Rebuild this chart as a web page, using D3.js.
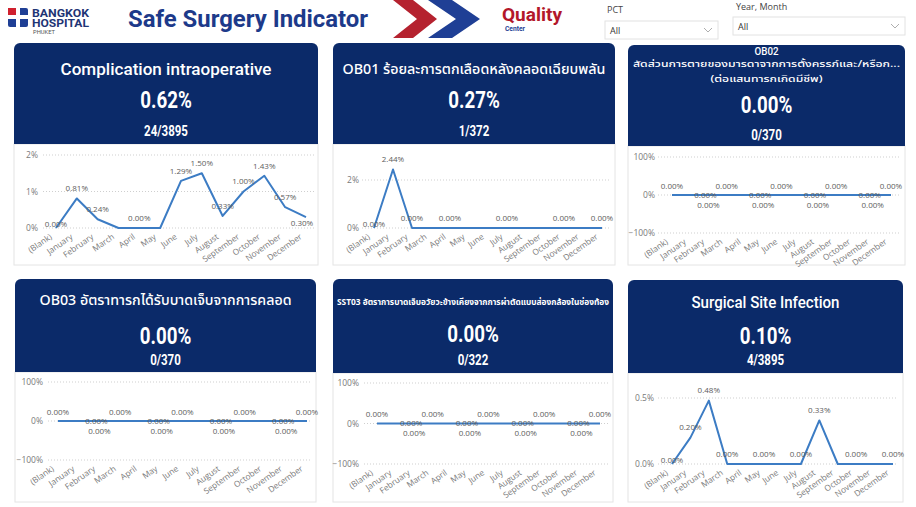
<!DOCTYPE html>
<html><head><meta charset="utf-8">
<script src="https://cdn.jsdelivr.net/npm/d3@7"></script>
<style>
html,body{margin:0;padding:0;background:#fff;}
svg{display:block;font-family:"Segoe UI","Open Sans","Noto Sans",sans-serif;}
</style></head><body>
<svg id="c" width="916" height="507"></svg>
<script>
// ---------- data ----------
const months = ["(Blank)","January","February","March","April","May","June","July","August","September","October","November","December"];
const complicationValues = [0,0.81,0.24,0,0,0,1.29,1.50,0.33,1.00,1.43,0.57,0.30];
const ob01Values = [0,2.44,0,0,0,0,0,0,0,0,0,0,0];
const ob02Values = [0,0,0,0,0,0,0,0,0,0,0,0,0];
const ob03Values = [0,0,0,0,0,0,0,0,0,0,0,0,0];
const sst03Values = [0,0,0,0,0,0,0,0,0,0,0,0,0];
const ssiValues = [0,0.20,0.48,0,0,0,0,0,0.33,0,0,0,0];
const complicationLabelled = [0,1,2,4,6,7,8,9,10,11,12];
const ob01Labelled = [0,1,2,4,7,10,12];
const flatLabelled = [0,1,2,3,4,5,6,7,8,9,10,11,12];
const ssiLabelled = [0,1,2,3,5,7,8,10,12];
const panelTitles = [
  ["Complication intraoperative"],
  ["OB01 ร้อยละการตกเลือดหลังคลอดเฉียบพลัน"],
  ["OB02","สัดส่วนการตายของมารดาจากการตั้งครรภ์และ/หรือก...","(ต่อแสนทารกเกิดมีชีพ)"],
  ["OB03 อัตราทารกได้รับบาดเจ็บจากการคลอด"],
  ["SST03 อัตราการบาดเจ็บอวัยวะข้างเคียงจากการผ่าตัดแบบส่องกล้องในช่องท้อง"],
  ["Surgical Site Infection"]
];
const kpiValues = ["0.62%","0.27%","0.00%","0.00%","0.00%","0.10%"];
const kpiRatios = ["24/3895","1/372","0/370","0/370","0/322","4/3895"];
const ticksComplication = [0,1,2];
const ticksOb01 = [0,2];
const ticksFlat = [-100,0,100];
const ticksSsi = [0,0.5];
const filterLabels = ["PCT","Year, Month"];
const filterValues = ["All","All"];

// ---------- drawing ----------
const NAVY = "#0b2a69", LINE = "#3c7cc4";
const svg = d3.select("#c");
const TH = "'Noto Sans Thai','Leelawadee UI',Tahoma,Loma,Garuda,'Noto Sans',sans-serif";
const COND = "Roboto,'Noto Sans',sans-serif";
const UI = "'Segoe UI','Open Sans',sans-serif";

function fit(sel, w){ sel.attr("textLength", w).attr("lengthAdjust","spacingAndGlyphs"); return sel; }
function condense(sel, f){ sel.each(function(){ const L=this.getComputedTextLength(); d3.select(this).attr("textLength", L*f).attr("lengthAdjust","spacingAndGlyphs"); }); return sel; }

// logo
const logo = svg.append("g");
logo.append("rect").attr("x",8).attr("y",8).attr("width",20).attr("height",19).attr("rx",2).attr("fill","#1f3f95");
logo.append("rect").attr("x",8).attr("y",8).attr("width",10).attr("height",9).attr("fill","#d0202e");
logo.append("rect").attr("x",16).attr("y",8).attr("width",4).attr("height",19).attr("fill","#fff");
logo.append("rect").attr("x",8).attr("y",15).attr("width",20).attr("height",4).attr("fill","#fff");
logo.append("text").attr("x",32).attr("y",17).attr("font-family",COND).attr("font-weight",700).attr("font-size",10).attr("fill","#1f3575").text("BANGKOK").call(fit,57);
logo.append("text").attr("x",32).attr("y",26.5).attr("font-family",COND).attr("font-weight",700).attr("font-size",10).attr("fill","#1f3575").text("HOSPITAL").call(fit,57);
logo.append("text").attr("x",33).attr("y",34).attr("font-family",COND).attr("font-size",5).attr("fill","#555").text("PHUKET").call(fit,22);

svg.append("text").attr("x",128).attr("y",27).attr("font-family",COND).attr("font-weight",700).attr("font-size",24).attr("fill","#1d3a8a").text("Safe Surgery Indicator").call(fit,240);

// chevrons
function chevron(x0,a,d,h,fill){
  svg.append("polygon").attr("points",[[x0,0],[x0+a,0],[x0+a+d,h/2],[x0+a,h],[x0,h],[x0+d,h/2]].map(p=>p.join(",")).join(" ")).attr("fill",fill);
}
chevron(393,20,24,38,"#b5222f");
chevron(428,24,28,38,"#1f3f95");

svg.append("text").attr("x",502).attr("y",21).attr("font-family",COND).attr("font-weight",700).attr("font-size",19).attr("fill","#b3172a").text("Quality").call(fit,60);
svg.append("text").attr("x",505).attr("y",31).attr("font-family",COND).attr("font-weight",700).attr("font-size",6.5).attr("fill","#1f3f95").text("Center").call(fit,20);

// filters
const filters = [{lx:607,ly:13,bx:605,by:21,bw:113,bh:18},{lx:736,ly:10,bx:733,by:17,bw:172,bh:18}];
filters.forEach((f,i)=>{
  svg.append("text").attr("x",f.lx).attr("y",f.ly).attr("font-size",9).attr("fill","#444").text(filterLabels[i]);
  svg.append("rect").attr("x",f.bx).attr("y",f.by).attr("width",f.bw).attr("height",f.bh).attr("fill","#fff").attr("stroke","#e2e2e2");
  svg.append("text").attr("x",f.bx+5).attr("y",f.by+13).attr("font-size",9).attr("fill","#333").text(filterValues[i]);
  const cx=f.bx+f.bw-10, cy=f.by+9;
  svg.append("path").attr("d",`M${cx-4},${cy-2}L${cx},${cy+2}L${cx+4},${cy-2}`).attr("fill","none").attr("stroke","#999").attr("stroke-width",0.8);
});

const pct0 = v => d3.format(".0f")(v)+"%";
const pct1 = v => d3.format(".1f")(v)+"%";
const pct2 = v => d3.format(".2f")(v)+"%";

const panels = [
 {hx0:14,hx1:318,hy0:43,hy1:144,by1:265, px0:56,px1:306, dom:[0,2], rng:[228,155], ticks:ticksComplication, tf:pct0, tickX:38, gx0:43, gx1:314,
  values:complicationValues, labelled:complicationLabelled, kind:"trend", titleY:[69], titleSize:[17], titleW:[211], titleFont:[COND], valY:99, ratioY:131},
 {hx0:333,hx1:615,hy0:43,hy1:144,by1:265, px0:374,px1:602, dom:[0,2], rng:[228,180], ticks:ticksOb01, tf:pct0, tickX:359, gx0:362, gx1:610,
  values:ob01Values, labelled:ob01Labelled, kind:"trend", titleY:[69], titleSize:[14], titleW:[263], titleFont:[TH], valY:99, ratioY:131},
 {hx0:628,hx1:905,hy0:45,hy1:146,by1:265, px0:672,px1:891, dom:[-100,100], rng:[233,157], ticks:ticksFlat, tf:pct0, tickX:655, gx0:658, gx1:900,
  values:ob02Values, labelled:flatLabelled, kind:"flat", titleY:[51,64,79], titleSize:[10,9.5,9.5], titleW:[24,267,112], titleFont:[COND,TH,TH], valY:104, ratioY:135},
 {hx0:15,hx1:316,hy0:279,hy1:372,by1:502, px0:58,px1:307, dom:[-100,100], rng:[460,382], ticks:ticksFlat, tf:pct0, tickX:43, gx0:48, gx1:312,
  values:ob03Values, labelled:flatLabelled, kind:"flat", titleY:[300], titleSize:[14], titleW:[252], titleFont:[TH], valY:335, ratioY:360},
 {hx0:333,hx1:613,hy0:279,hy1:373,by1:502, px0:377,px1:600, dom:[-100,100], rng:[464,383], ticks:ticksFlat, tf:pct0, tickX:359, gx0:364, gx1:608,
  values:sst03Values, labelled:flatLabelled, kind:"flat", titleY:[302], titleSize:[9.5], titleW:[272], titleFont:[TH], valY:333, ratioY:360},
 {hx0:628,hx1:903,hy0:280,hy1:373,by1:502, px0:672,px1:893, dom:[0,0.5], rng:[464,398], ticks:ticksSsi, tf:pct1, tickX:654, gx0:658, gx1:898,
  values:ssiValues, labelled:ssiLabelled, kind:"trend", titleY:[302], titleSize:[16], titleW:[148], titleFont:[COND], valY:335, ratioY:360}
];

panels.forEach((p,pi)=>{
  const g = svg.append("g");
  const cx = (p.hx0+p.hx1)/2;
  // chart body
  g.append("rect").attr("x",p.hx0).attr("y",p.hy1).attr("width",p.hx1-p.hx0).attr("height",p.by1-p.hy1).attr("fill","#fff").attr("stroke","#e4e4e4");
  // header
  g.append("rect").attr("x",p.hx0).attr("y",p.hy0).attr("width",p.hx1-p.hx0).attr("height",p.hy1-p.hy0).attr("rx",6).attr("fill",NAVY);
  g.append("rect").attr("x",p.hx0).attr("y",p.hy0+10).attr("width",p.hx1-p.hx0).attr("height",p.hy1-p.hy0-10).attr("fill",NAVY);
  panelTitles[pi].forEach((t,k)=>{
    g.append("text").attr("x",cx).attr("y",p.titleY[k]).attr("dy","0.35em").attr("text-anchor","middle")
      .attr("font-family",p.titleFont[k]).attr("font-weight", pi===4?700:500).attr("font-size",p.titleSize[k]).attr("fill","#fff").text(t).call(fit,p.titleW[k]);
  });
  g.append("text").attr("x",cx).attr("y",p.valY).attr("dy","0.36em").attr("text-anchor","middle").attr("font-family",COND).attr("font-weight",700).attr("font-size",24).attr("fill","#fff").text(kpiValues[pi]).call(condense,0.78);
  g.append("text").attr("x",cx).attr("y",p.ratioY).attr("dy","0.36em").attr("text-anchor","middle").attr("font-family",COND).attr("font-weight",700).attr("font-size",14).attr("fill","#fff").text(kpiRatios[pi]).call(condense,0.82);

  // chart
  const x = d3.scalePoint().domain(months).range([p.px0,p.px1]);
  const y = d3.scaleLinear().domain(p.dom).range(p.rng);
  p.ticks.forEach(t=>{
    g.append("line").attr("x1",p.gx0).attr("x2",p.gx1).attr("y1",y(t)).attr("y2",y(t)).attr("stroke","#cfcfcf").attr("stroke-dasharray","1,2");
  });
  const ya = g.append("g").attr("transform",`translate(${p.tickX},0)`).call(d3.axisLeft(y).tickValues(p.ticks).tickFormat(p.tf).tickSize(0).tickPadding(0));
  ya.select(".domain").remove();
  ya.selectAll("text").attr("font-size",8.5).attr("fill","#7a7a7a").attr("font-family",UI);

  const xa = g.append("g").attr("transform",`translate(0,${y(p.dom[0])})`).call(d3.axisBottom(x).tickSize(0).tickPadding(0));
  xa.select(".domain").remove();
  xa.selectAll("text").attr("x",0).attr("y",0).attr("dy",0).attr("text-anchor","end")
    .attr("transform","translate(-4,10) rotate(-35)").attr("font-size",8.3).attr("fill","#7a7a7a").attr("font-family",UI);

  const line = d3.line().x((d,i)=>x(months[i])).y(d=>y(d));
  g.append("path").datum(p.values).attr("d",line).attr("fill","none").attr("stroke",LINE).attr("stroke-width",2).attr("stroke-linejoin","round");

  p.labelled.forEach(i=>{
    const v = p.values[i];
    let lx = x(months[i]), ly = y(v) - 10;
    if (p.kind==="flat"){
      if (i%3===1){ lx = x(months[i+1]) - 3; ly = y(v); }
      else if (i%3===2){ ly = y(v) + 10; }
      else { ly = y(v) - 9; }
    } else {
      if (i===0) ly = y(v) - 4;
      if (pi===0 && i===12){ ly = y(v) + 6; lx -= 4; }
    }
    g.append("text").attr("x",lx).attr("y",ly).attr("dy","0.35em").attr("text-anchor","middle")
      .attr("font-size",8).attr("fill","#5c5c5c").attr("font-family",UI).text(pct2(v));
  });
});
</script>
</body></html>
